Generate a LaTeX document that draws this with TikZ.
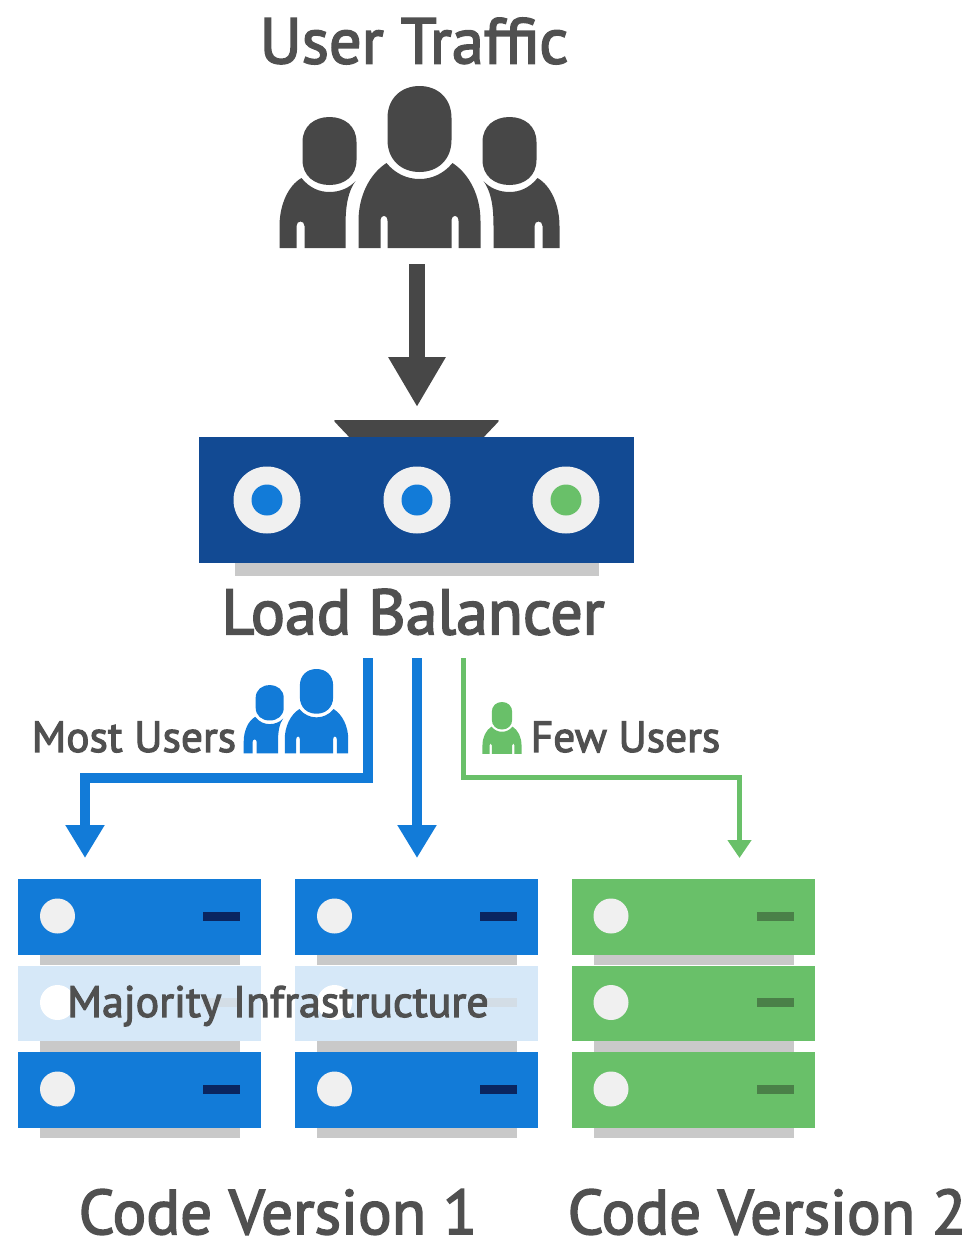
\documentclass[tikz,border=0pt]{standalone}
\usepackage{fontspec}
\setmainfont{PT Sans}
\newfontfamily\labelfont[FakeBold=2.6]{PT Sans}
\usetikzlibrary{arrows.meta}
\definecolor{ink}{HTML}{505050}
\definecolor{dark}{HTML}{474747}
\definecolor{navyb}{HTML}{124A93}
\definecolor{blueb}{HTML}{127BD8}
\definecolor{greenb}{HTML}{69C069}
\definecolor{paleb}{HTML}{D6E8F8}
\definecolor{greybar}{HTML}{C9C9C9}
\definecolor{disc}{HTML}{F0F0F0}
\definecolor{slotb}{HTML}{0A2560}
\definecolor{slotg}{HTML}{4A8048}
\definecolor{slotp}{HTML}{D3DDE6}
\newcommand{\bigperson}{
 (-32,32) .. controls (-32,12) and (-18,0) .. (0,0) .. controls (18,0) and (32,12) .. (32,32) -- (32,54) .. controls (32,74) and (18,86) .. (0,86) .. controls (-18,86) and (-32,74) .. (-32,54) -- cycle
 (-33,77) .. controls (-24,88) and (-12,93) .. (0,93) .. controls (12,93) and (24,88) .. (33,77) .. controls (50,88) and (61,110) .. (61,135) -- (61,162) -- (39,162) -- (39,135) .. controls (39,128) and (32,128) .. (32,135) -- (32,162) -- (-32,162) -- (-32,135) .. controls (-32,128) and (-39,128) .. (-39,135) -- (-39,162) -- (-61,162) -- (-61,135) .. controls (-61,110) and (-50,88) .. (-33,77) -- cycle}
\newcommand{\sideperson}{
 (-117,56) .. controls (-117,40) and (-105,31) .. (-90,31) .. controls (-75,31) and (-63,40) .. (-63,56) -- (-63,74) .. controls (-63,90) and (-75,99) .. (-90,99) .. controls (-105,99) and (-117,90) .. (-117,74) -- cycle
 (-118,92) .. controls (-110,102) and (-100,106) .. (-90,106) .. controls (-80,106) and (-70,102) .. (-64,95) .. controls (-71,105) and (-74,118) .. (-74,140) -- (-74,162) -- (-115,162) -- (-115,140) .. controls (-115,134) and (-123,134) .. (-123,140) -- (-123,162) -- (-140,162) -- (-140,140) .. controls (-140,120) and (-132,100) .. (-118,92) -- cycle}
\tikzset{
 x=1pt,y=-1pt,
 label text/.style={text=ink,inner sep=0pt,anchor=center,font=\labelfont\fontsize{#1}{#1}\selectfont},
 rack/.style={rectangle,draw=none,inner sep=0pt,anchor=north west,minimum width=243pt,minimum height=75.5pt},
 lamp/.style={circle,fill=disc,draw=none,inner sep=0pt,minimum size=35pt},
 wire/.style={line width=#1,line join=miter},
}
\newcommand{\serverrow}[6]{% name,x,y,fill,slot,disc
 \fill[greybar] (#2+22,#3+75) rectangle (#2+222,#3+86);
 \node[rack,fill=#4] (#1) at (#2,#3) {};
 \node[lamp,fill=#6] (#1d) at (#2+39.5,#3+37) {};
 \node[rectangle,fill=#5,inner sep=0pt,minimum width=37pt,minimum height=9pt] (#1s) at (#2+203.5,#3+37) {};
}
\begin{document}
\begin{tikzpicture}
\useasboundingbox (0,0) rectangle (976,1243);
\node[label text=64.5] (traffic) at (414,41) {User Traffic};
\begin{scope}[shift={(419.5,86)}]
 \fill[dark] \bigperson;
 \fill[dark] \sideperson;
 \begin{scope}[xscale=-1]\fill[dark] \sideperson;\end{scope}
\end{scope}
\coordinate (usersout) at (417,264);
% load balancer
\fill[dark,rounded corners=2.5pt] (333,420) -- (500,420) -- (481,440) -- (352,440) -- cycle;
\fill[greybar] (235,563) rectangle (599,576);
\node[rectangle,fill=navyb,inner sep=0pt,minimum width=435pt,minimum height=126pt,anchor=north west] (lb) at (199,437) {};
\foreach \n/\x/\c in {a/267/blueb,b/417/blueb,c/566/greenb}{
 \node[circle,fill=disc,inner sep=0pt,minimum size=67pt] (lb\n) at (\x,500) {};
 \node[circle,fill=\c,inner sep=0pt,minimum size=31pt] at (\x,500) {};
}
\node[label text=64] (lbtext) at (413,612) {Load Balancer};
\draw[dark,wire=16pt,-{Triangle[width=54pt,length=50pt]}] (usersout) -- (417,407);
% connectors
\coordinate (o1) at (368,658);
\coordinate (o2) at (417,658);
\coordinate (o3) at (463.5,658);
\coordinate (t1) at (85,858);
\coordinate (t2) at (417,858);
\coordinate (t3) at (739.5,858);
\draw[blueb,wire=10pt,-{Triangle[width=37pt,length=33pt]}] (o1) |- (85,778) -- (t1);
\draw[blueb,wire=10pt,-{Triangle[width=37pt,length=33pt]}] (o2) -- (t2);
\draw[greenb,wire=5pt,-{Triangle[width=23pt,length=18pt]}] (o3) |- (739.5,777.5) -- (t3);
\begin{scope}[shift={(316.5,669)},scale=.52]
 \fill[blueb] \bigperson;
 \fill[blueb] \sideperson;
\end{scope}
\begin{scope}[shift={(502,702)},scale=.32]
 \fill[greenb] \bigperson;
\end{scope}
\node[label text=43.5] (most) at (134,737) {Most Users};
\node[label text=43.5] (few) at (625.5,737) {Few Users};
% servers
\serverrow{sa}{18}{879}{blueb}{slotb}{disc}
\serverrow{sb}{18}{965.5}{paleb}{slotp}{white}
\serverrow{sc}{18}{1052}{blueb}{slotb}{disc}
\serverrow{sd}{295}{879}{blueb}{slotb}{disc}
\serverrow{se}{295}{965.5}{paleb}{slotp}{white}
\serverrow{sf}{295}{1052}{blueb}{slotb}{disc}
\serverrow{sg}{571.5}{879}{greenb}{slotg}{disc}
\serverrow{sh}{571.5}{965.5}{greenb}{slotg}{disc}
\serverrow{si}{571.5}{1052}{greenb}{slotg}{disc}
\node[label text=44] (major) at (278,1006) {Majority Infrastructure};
\node[label text=63] (v1) at (278,1212) {Code Version 1};
\node[label text=63] (v2) at (767,1212) {Code Version 2};
\end{tikzpicture}
\end{document}
